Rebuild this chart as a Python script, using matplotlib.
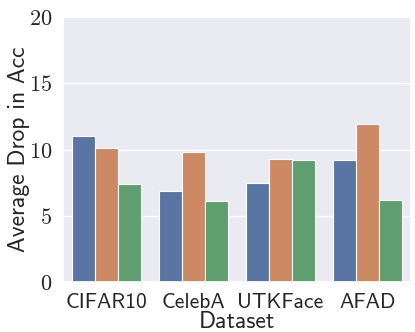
import numpy as np
import pandas as pd
import matplotlib
matplotlib.use("Agg")
import matplotlib.pyplot as plt
import seaborn as sns

datasets = ["CIFAR10", "CelebA", "UTKFace", "AFAD"]
method_a = [11.0, 6.9, 7.5, 9.25]
method_b = [10.1, 9.85, 9.3, 11.95]
method_c = [7.4, 6.1, 9.2, 6.2]

sns.set_theme(style="darkgrid")
plt.rcParams["mathtext.fontset"] = "cm"
plt.rcParams["axes.unicode_minus"] = False

df = pd.DataFrame({
    "Dataset": datasets * 3,
    "value": method_a + method_b + method_c,
    "method": ["a"] * 4 + ["b"] * 4 + ["c"] * 4,
})

fig, ax = plt.subplots(figsize=(4.15, 3.32), dpi=100)
sns.barplot(data=df, x="Dataset", y="value", hue="method", ax=ax,
            palette="deep", edgecolor="white", linewidth=0.8, legend=False)

ax.set_ylim(0, 20)
ax.set_yticks([0, 5, 10, 15, 20])
ax.set_yticklabels([f"${t}$" for t in [0, 5, 10, 15, 20]], fontsize=16)
ax.set_xticks(range(len(datasets)))
ax.set_xticklabels(datasets, fontfamily="cmss10", fontsize=15.5)
ax.set_xlabel("Dataset", fontfamily="cmss10", fontsize=17, labelpad=-1)
ax.set_ylabel("Average Drop in Acc", fontfamily="cmss10", fontsize=17, labelpad=-1)
ax.tick_params(axis="both", pad=2)

fig.subplots_adjust(left=0.152, right=0.99, top=0.948, bottom=0.15)
fig.savefig("out.png", dpi=100)
